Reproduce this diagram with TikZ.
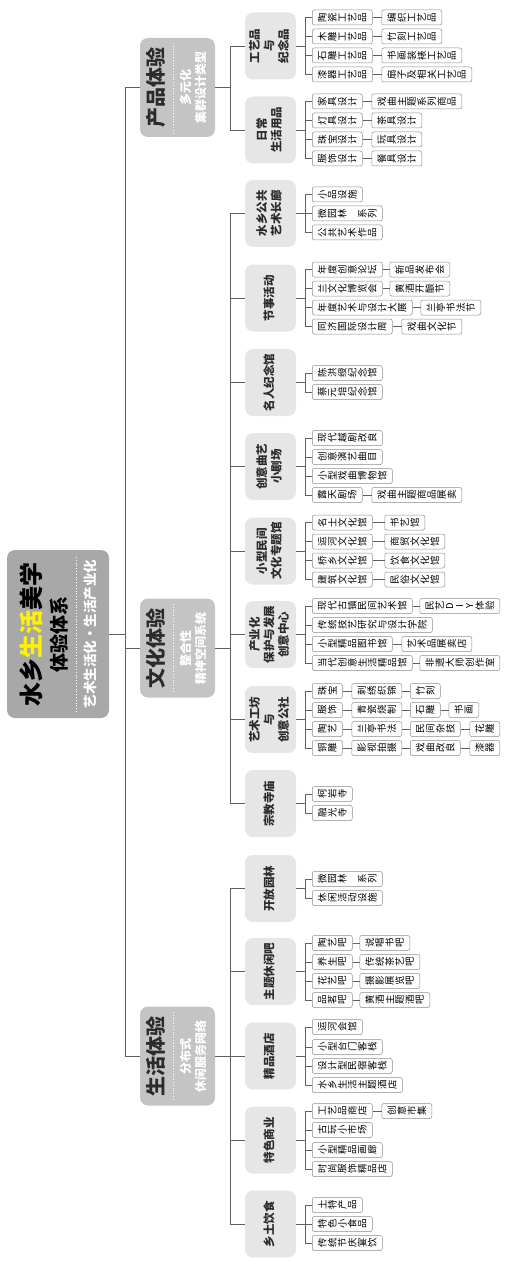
\documentclass[tikz,border=0pt]{standalone}
\usepackage{fontspec}
\setmainfont{Noto Sans CJK SC}
\usepackage{graphicx}
\usetikzlibrary{positioning}
\definecolor{rootgray}{HTML}{A8A8A8}
\definecolor{onegray}{HTML}{C4C4C4}
\definecolor{twogray}{HTML}{E6E6E6}
\definecolor{leafline}{HTML}{8C8C8C}
\definecolor{linkgray}{HTML}{606060}
\definecolor{titlegray}{HTML}{2B2B2B}

% one character per slot, each turned a quarter left
\newcommand\vchars[1]{\vcharloop#1\relax}
\newcommand\vcharloop[1]{\ifx\relax#1\else\hbox to 10pt{\hss\rotatebox[origin=c]{90}{#1}\hss}\expandafter\vcharloop\fi}
% text block turned a quarter left
\newcommand\rt[1]{\rotatebox{90}{\begin{tabular}{@{}c@{}}#1\end{tabular}}}

\begin{document}
\begin{tikzpicture}[x=1pt, y=-1pt,
rootbox/.style={rectangle, fill=rootgray, rounded corners=8pt, minimum width=102pt, minimum height=168pt, inner sep=0pt},
onebox/.style={rectangle, fill=onegray, rounded corners=8pt, minimum width=75pt, minimum height=99pt, inner sep=0pt},
onetitle/.style={rotate=90, text=titlegray, font=\bfseries\fontsize{20}{20}\selectfont, inner sep=0pt},
onesub/.style={text=white, font=\bfseries\fontsize{12}{15}\selectfont, inner sep=0pt},
twobox/.style={rectangle, fill=twogray, rounded corners=8pt, minimum width=51pt, minimum height=67pt, inner sep=0pt, font=\bfseries\fontsize{11.5}{14.5}\selectfont, text=titlegray},
leafbox/.style={rectangle, draw=leafline, line width=0.5pt, fill=white, rounded corners=2pt, minimum height=15pt, inner xsep=5pt, inner ysep=0pt, anchor=west, font=\fontsize{9.5}{10}\selectfont, text=black},
link/.style={draw=linkgray, line width=0.6pt},
]
\useasboundingbox (0,0) rectangle (507,1265);

%Root
\node[rootbox] at (58,634) (root) {};
\node[rotate=90, font=\bfseries\fontsize{24}{24}\selectfont] at (31,634) (roottitle) {水乡{\color{yellow}生活}美学};
\node[rotate=90, font=\bfseries\fontsize{19}{19}\selectfont] at (59,634) (rootsub) {体验体系};
\draw[white, dotted, line width=0.8pt] (76,557) -- (76,712);
\node[rotate=90, text=white, font=\bfseries\fontsize{13.5}{14}\selectfont] at (90,634) (rootline) {艺术生活化・生活产业化};

%First level
\node[onebox] at (177.5,87.5) (cp) {};
\node[onetitle] at (156,87.5) (cptitle) {产品体验};
\draw[white, dotted, line width=0.8pt] (173,43) -- (173,133);
\node[onesub] at (194.5,87.5) (cpsub) {\rt{多元化\\集群设计类型}};

\node[onebox] at (177.5,648) (wh) {};
\node[onetitle] at (156,648) (whtitle) {文化体验};
\draw[white, dotted, line width=0.8pt] (173,604) -- (173,693);
\node[onesub] at (194.5,648) (whsub) {\rt{整合性\\精神空间系统}};

\node[onebox] at (177.5,1056) (sh) {};
\node[onetitle] at (156,1056) (shtitle) {生活体验};
\draw[white, dotted, line width=0.8pt] (173,1012) -- (173,1101);
\node[onesub] at (194.5,1056) (shsub) {\rt{分布式\\休闲服务网络}};

%Second level
\node[twobox] at (270.5,46) (gy) {\rt{工艺品\\与\\纪念品}};
\node[twobox] at (270.5,130) (rc) {\rt{日常\\生活用品}};
\node[twobox] at (270.5,213.5) (cl) {\rt{水乡公共\\艺术长廊}};
\node[twobox] at (270.5,298) (jh) {\rt{节事活动}};
\node[twobox] at (270.5,382.5) (mr) {\rt{名人纪念馆}};
\node[twobox] at (270.5,466.5) (qy) {\rt{创意曲艺\\小剧场}};
\node[twobox] at (270.5,551) (zt) {\rt{小型民间\\文化专题馆}};
\node[twobox] at (270.5,634.5) (cy) {\rt{产业化\\保护与发展\\创意中心}};
\node[twobox] at (270.5,719.5) (gf) {\rt{艺术工坊\\与\\创意公社}};
\node[twobox] at (270.5,803.5) (sm) {\rt{宗教寺庙}};
\node[twobox] at (270.5,888.5) (yl) {\rt{开放园林}};
\node[twobox] at (270.5,971.5) (xx) {\rt{主题休闲吧}};
\node[twobox] at (270.5,1056) (jd) {\rt{精品酒店}};
\node[twobox] at (270.5,1140) (sy) {\rt{特色商业}};
\node[twobox] at (270.5,1224) (ys) {\rt{乡土饮食}};

%Leaves
\node[leafbox] at (312,17.5) (gy1) {\vchars{陶瓷工艺品}};
\node[leafbox, right=9pt of gy1] (gy1b) {\vchars{编织工艺品}};
\node[leafbox] at (312,36.5) (gy2) {\vchars{木雕工艺品}};
\node[leafbox, right=9pt of gy2] (gy2b) {\vchars{竹刻工艺品}};
\node[leafbox] at (312,55.5) (gy3) {\vchars{石雕工艺品}};
\node[leafbox, right=9pt of gy3] (gy3b) {\vchars{书画装裱工艺品}};
\node[leafbox] at (312,74.5) (gy4) {\vchars{漆器工艺品}};
\node[leafbox, right=9pt of gy4] (gy4b) {\vchars{扇子及相关工艺品}};

\node[leafbox] at (312,101.5) (rc1) {\vchars{家具设计}};
\node[leafbox, right=9pt of rc1] (rc1b) {\vchars{戏曲主题系列商品}};
\node[leafbox] at (312,120.5) (rc2) {\vchars{灯具设计}};
\node[leafbox, right=9pt of rc2] (rc2b) {\vchars{茶具设计}};
\node[leafbox] at (312,139.5) (rc3) {\vchars{珠宝设计}};
\node[leafbox, right=9pt of rc3] (rc3b) {\vchars{玩具设计}};
\node[leafbox] at (312,158.5) (rc4) {\vchars{服饰设计}};
\node[leafbox, right=9pt of rc4] (rc4b) {\vchars{餐具设计}};

\node[leafbox] at (312,194.5) (cl1) {\vchars{小品设施}};
\node[leafbox] at (312,213.5) (cl2) {\vchars{微园林~系列}};
\node[leafbox] at (312,232.5) (cl3) {\vchars{公共艺术作品}};

\node[leafbox] at (312,269.5) (jh1) {\vchars{年度创意论坛}};
\node[leafbox, right=7pt of jh1] (jh1b) {\vchars{新品发布会}};
\node[leafbox] at (312,288.5) (jh2) {\vchars{兰文化博览会}};
\node[leafbox, right=7pt of jh2] (jh2b) {\vchars{黄酒开酿节}};
\node[leafbox] at (312,307.5) (jh3) {\vchars{年度艺术与设计大展}};
\node[leafbox, right=8pt of jh3] (jh3b) {\vchars{兰亭书法节}};
\node[leafbox] at (312,326.5) (jh4) {\vchars{同济国际设计周}};
\node[leafbox, right=9pt of jh4] (jh4b) {\vchars{戏曲文化节}};

\node[leafbox] at (312,373) (mr1) {\vchars{陈洪绶纪念馆}};
\node[leafbox] at (312,392) (mr2) {\vchars{蔡元培纪念馆}};

\node[leafbox] at (312,438) (qy1) {\vchars{现代越剧改良}};
\node[leafbox] at (312,457) (qy2) {\vchars{创意演艺曲目}};
\node[leafbox] at (312,476) (qy3) {\vchars{小型戏曲博物馆}};
\node[leafbox] at (312,495) (qy4) {\vchars{露天剧场}};
\node[leafbox, right=9pt of qy4] (qy4b) {\vchars{戏曲主题商品展卖}};

\node[leafbox] at (312,522.5) (zt1) {\vchars{名士文化馆}};
\node[leafbox, right=12pt of zt1] (zt1b) {\vchars{书艺馆}};
\node[leafbox] at (312,541.5) (zt2) {\vchars{运河文化馆}};
\node[leafbox, right=12pt of zt2] (zt2b) {\vchars{商贸文化馆}};
\node[leafbox] at (312,560.5) (zt3) {\vchars{桥乡文化馆}};
\node[leafbox, right=12pt of zt3] (zt3b) {\vchars{饮食文化馆}};
\node[leafbox] at (312,579.5) (zt4) {\vchars{建筑文化馆}};
\node[leafbox, right=12pt of zt4] (zt4b) {\vchars{民俗文化馆}};

\node[leafbox] at (312,606) (cy1) {\vchars{现代古镇民间艺术馆}};
\node[leafbox, right=7pt of cy1] (cy1b) {\vchars{民艺DIY体验}};
\node[leafbox] at (312,625) (cy2) {\vchars{传统技艺研究与设计学院}};
\node[leafbox] at (312,644) (cy3) {\vchars{小型精品图书馆}};
\node[leafbox, right=9pt of cy3] (cy3b) {\vchars{艺术品展卖店}};
\node[leafbox] at (312,663) (cy4) {\vchars{当代创意生活精品馆}};
\node[leafbox, right=7pt of cy4] (cy4b) {\vchars{非遗大师创作室}};

\node[leafbox] at (312,691) (gf1) {\vchars{珠宝}};
\node[leafbox, right=9pt of gf1] (gf1b) {\vchars{刺绣织锦}};
\node[leafbox, right=8pt of gf1b] (gf1c) {\vchars{竹刻}};
\node[leafbox] at (312,710) (gf2) {\vchars{服饰}};
\node[leafbox, right=9pt of gf2] (gf2b) {\vchars{青瓷烧制}};
\node[leafbox, right=8pt of gf2b] (gf2c) {\vchars{石雕}};
\node[leafbox, right=8pt of gf2c] (gf2d) {\vchars{书画}};
\node[leafbox] at (312,729) (gf3) {\vchars{陶艺}};
\node[leafbox, right=9pt of gf3] (gf3b) {\vchars{兰亭书法}};
\node[leafbox, right=8pt of gf3b] (gf3c) {\vchars{民间杂技}};
\node[leafbox, right=9pt of gf3c] (gf3d) {\vchars{花雕}};
\node[leafbox] at (312,748) (gf4) {\vchars{铜雕}};
\node[leafbox, right=9pt of gf4] (gf4b) {\vchars{影视拍摄}};
\node[leafbox, right=8pt of gf4b] (gf4c) {\vchars{戏曲改良}};
\node[leafbox, right=9pt of gf4c] (gf4d) {\vchars{漆器}};

\node[leafbox] at (312,794) (sm1) {\vchars{柯岩寺}};
\node[leafbox] at (312,813) (sm2) {\vchars{融光寺}};

\node[leafbox] at (312,879) (yl1) {\vchars{微园林~系列}};
\node[leafbox] at (312,898) (yl2) {\vchars{休闲活动设施}};

\node[leafbox] at (312,943) (xx1) {\vchars{陶艺吧}};
\node[leafbox, right=7pt of xx1] (xx1b) {\vchars{说唱书吧}};
\node[leafbox] at (312,962) (xx2) {\vchars{养生吧}};
\node[leafbox, right=7pt of xx2] (xx2b) {\vchars{传统茶艺吧}};
\node[leafbox] at (312,981) (xx3) {\vchars{花艺吧}};
\node[leafbox, right=7pt of xx3] (xx3b) {\vchars{摄影展览吧}};
\node[leafbox] at (312,1000) (xx4) {\vchars{品茗吧}};
\node[leafbox, right=7pt of xx4] (xx4b) {\vchars{黄酒主题酒吧}};

\node[leafbox] at (312,1027) (jd1) {\vchars{运河会馆}};
\node[leafbox] at (312,1047) (jd2) {\vchars{小型台门客栈}};
\node[leafbox] at (312,1066) (jd3) {\vchars{设计型民宿客栈}};
\node[leafbox] at (312,1085) (jd4) {\vchars{水乡生活主题酒店}};

\node[leafbox] at (312,1111) (sy1) {\vchars{工艺品商店}};
\node[leafbox, right=9pt of sy1] (sy1b) {\vchars{创意市集}};
\node[leafbox] at (312,1130) (sy2) {\vchars{古玩小市场}};
\node[leafbox] at (312,1150) (sy3) {\vchars{小型精品画廊}};
\node[leafbox] at (312,1169) (sy4) {\vchars{时尚服饰精品店}};

\node[leafbox] at (312,1205) (ys1) {\vchars{土特产品}};
\node[leafbox] at (312,1224) (ys2) {\vchars{特色小食品}};
\node[leafbox] at (312,1243) (ys3) {\vchars{传统节庆宴饮}};

%Lines
\path (root.east) ++(16,0) coordinate (rootb);
\draw[link] (root.east) -- (rootb);
\foreach \n in {cp,wh,sh} \draw[link] (rootb) |- (\n.west);

\path (cp.east) ++(15,0) coordinate (cpb);
\draw[link] (cp.east) -- (cpb);
\foreach \n in {gy,rc} \draw[link] (cpb) |- (\n.west);
\path (wh.east) ++(15,0) coordinate (whb);
\draw[link] (wh.east) -- (whb);
\foreach \n in {cl,jh,mr,qy,zt,cy,gf,sm} \draw[link] (whb) |- (\n.west);
\path (sh.east) ++(15,0) coordinate (shb);
\draw[link] (sh.east) -- (shb);
\foreach \n in {yl,xx,jd,sy,ys} \draw[link] (shb) |- (\n.west);

\foreach \g/\rows in {gy/{1,2,3,4}, rc/{1,2,3,4}, cl/{1,2,3}, jh/{1,2,3,4}, mr/{1,2}, qy/{1,2,3,4}, zt/{1,2,3,4}, cy/{1,2,3,4}, gf/{1,2,3,4}, sm/{1,2}, yl/{1,2}, xx/{1,2,3,4}, jd/{1,2,3,4}, sy/{1,2,3,4}, ys/{1,2,3}}{
  \path (\g.east) ++(9,0) coordinate (\g b);
  \draw[link] (\g.east) -- (\g b);
  \foreach \r in \rows \draw[link] (\g b) |- (\g\r.west);
}

\foreach \a/\b in {gy1/gy1b, gy2/gy2b, gy3/gy3b, gy4/gy4b, rc1/rc1b, rc2/rc2b, rc3/rc3b, rc4/rc4b,
  jh1/jh1b, jh2/jh2b, jh3/jh3b, jh4/jh4b, qy4/qy4b, zt1/zt1b, zt2/zt2b, zt3/zt3b, zt4/zt4b,
  cy1/cy1b, cy3/cy3b, cy4/cy4b, gf1/gf1b, gf1b/gf1c, gf2/gf2b, gf2b/gf2c, gf2c/gf2d,
  gf3/gf3b, gf3b/gf3c, gf3c/gf3d, gf4/gf4b, gf4b/gf4c, gf4c/gf4d,
  xx1/xx1b, xx2/xx2b, xx3/xx3b, xx4/xx4b, sy1/sy1b}
  \draw[link] (\a) -- (\b);

\end{tikzpicture}
\end{document}
